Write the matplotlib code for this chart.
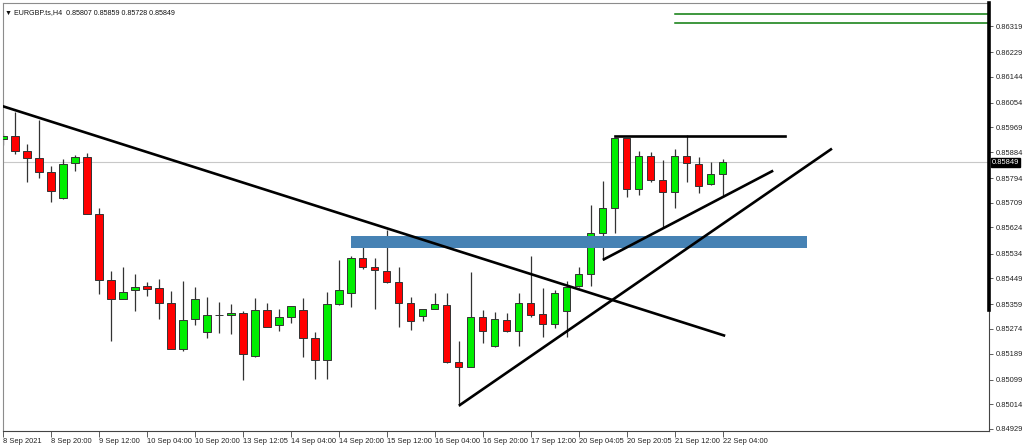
"""EURGBP H4 chart with trendlines"""
import matplotlib
matplotlib.use("Agg")
import matplotlib.pyplot as plt
import matplotlib.transforms as mtransforms

FONT = ["Liberation Sans", "DejaVu Sans"]

# OHLC, one H4 bar each, 8 Sep 04:00 .. 22 Sep 04:00
opens = [0.85930, 0.85941, 0.85889, 0.85863, 0.85816, 0.85725, 0.85845, 0.85866, 0.85670, 0.85442,
         0.85378, 0.85408, 0.85421, 0.85414, 0.85362, 0.85204, 0.85307, 0.85263, 0.85321, 0.85322,
         0.85328, 0.85182, 0.85339, 0.85286, 0.85315, 0.85339, 0.85242, 0.85167, 0.85359, 0.85399,
         0.85520, 0.85487, 0.85475, 0.85437, 0.85362, 0.85317, 0.85342, 0.85355, 0.85159, 0.85142,
         0.85314, 0.85214, 0.85304, 0.85266, 0.85362, 0.85325, 0.85292, 0.85335, 0.85422, 0.85462,
         0.85606, 0.85690, 0.85932, 0.85757, 0.85871, 0.85788, 0.85745, 0.85871, 0.85843, 0.85774,
         0.85807]
highs = [0.85951, 0.86023, 0.85911, 0.85995, 0.85836, 0.85860, 0.85874, 0.85880, 0.85690, 0.85474,
         0.85488, 0.85462, 0.85437, 0.85446, 0.85406, 0.85440, 0.85418, 0.85383, 0.85368, 0.85360,
         0.85337, 0.85380, 0.85362, 0.85343, 0.85354, 0.85380, 0.85263, 0.85401, 0.85513, 0.85526,
         0.85593, 0.85520, 0.85615, 0.85487, 0.85383, 0.85342, 0.85397, 0.85397, 0.85232, 0.85469,
         0.85339, 0.85333, 0.85328, 0.85399, 0.85527, 0.85414, 0.85408, 0.85440, 0.85487, 0.85701,
         0.85785, 0.85932, 0.85932, 0.85889, 0.85883, 0.85857, 0.85894, 0.85943, 0.85868, 0.85849,
         0.85859]
lows = [0.85908, 0.85876, 0.85782, 0.85794, 0.85713, 0.85722, 0.85820, 0.85669, 0.85395, 0.85232,
        0.85376, 0.85337, 0.85389, 0.85308, 0.85204, 0.85198, 0.85287, 0.85242, 0.85261, 0.85256,
        0.85096, 0.85177, 0.85280, 0.85268, 0.85295, 0.85178, 0.85102, 0.85102, 0.85357, 0.85351,
        0.85481, 0.85342, 0.85431, 0.85280, 0.85270, 0.85301, 0.85341, 0.85158, 0.85009, 0.85141,
        0.85224, 0.85213, 0.85262, 0.85216, 0.85316, 0.85247, 0.85276, 0.85245, 0.85420, 0.85423,
        0.85512, 0.85606, 0.85730, 0.85736, 0.85780, 0.85625, 0.85690, 0.85782, 0.85742, 0.85770,
        0.85728]
closes = [0.85941, 0.85888, 0.85863, 0.85816, 0.85749, 0.85843, 0.85866, 0.85670, 0.85442, 0.85376,
          0.85400, 0.85419, 0.85411, 0.85362, 0.85204, 0.85305, 0.85377, 0.85321, 0.85321, 0.85328,
          0.85186, 0.85339, 0.85280, 0.85314, 0.85352, 0.85244, 0.85167, 0.85359, 0.85408, 0.85520,
          0.85487, 0.85477, 0.85437, 0.85362, 0.85302, 0.85342, 0.85359, 0.85159, 0.85142, 0.85314,
          0.85266, 0.85307, 0.85266, 0.85364, 0.85323, 0.85290, 0.85397, 0.85420, 0.85462, 0.85606,
          0.85690, 0.85932, 0.85757, 0.85871, 0.85788, 0.85745, 0.85871, 0.85845, 0.85767, 0.85807,
          0.85849]

time_labels = ["8 Sep 2021", "8 Sep 20:00", "9 Sep 12:00", "10 Sep 04:00", "10 Sep 20:00",
               "13 Sep 12:05", "14 Sep 04:00", "14 Sep 20:00", "15 Sep 12:00", "16 Sep 04:00",
               "16 Sep 20:00", "17 Sep 12:00", "20 Sep 04:05", "20 Sep 20:05", "21 Sep 12:00",
               "22 Sep 04:00"]
price_ticks = [0.86319, 0.86229, 0.86144, 0.86054, 0.85969, 0.85884, 0.85794, 0.85709, 0.85624,
               0.85534, 0.85449, 0.85359, 0.85274, 0.85189, 0.85099, 0.85014, 0.84929]
last_price = 0.85849

# drawn objects (bar index, price)
down_line_x = [-0.23, 60.2]
down_line_y = [0.86045, 0.85250]
up_line_x = [38, 69.1]
up_line_y = [0.85009, 0.85896]
flag_line_x = [50, 64.2]
flag_line_y = [0.85512, 0.85820]
top_line_x = [51, 65.2]
top_line_y = 0.85940
zone_x = [29, 67]
zone_lo, zone_hi = 0.85553, 0.85595
green_start = 56
green_levels = [0.86360, 0.86331]

fig = plt.figure(figsize=(10.24, 4.47), dpi=100)
ax = fig.add_axes([3 / 1024, 16 / 447, 986 / 1024, 428 / 447])
ax.set_xlim(0.025, 82.19)
ax.set_ylim(0.849217, 0.863984)

# current price line
ax.axhline(last_price, color="#c8c8c8", lw=0.8, zorder=1)

# candles
n = len(opens)
xs = list(range(n))
ax.vlines(xs, lows, highs, color="#333333", lw=0.9, zorder=2)
bottoms = [min(o, c) for o, c in zip(opens, closes)]
heights = [abs(c - o) for o, c in zip(opens, closes)]
colors = ["#00ee00" if c > o else "#ff0000" for o, c in zip(opens, closes)]
ax.bar(xs, heights, bottom=bottoms, width=0.6, color=colors,
       edgecolor="#333333", linewidth=0.7, zorder=3)

# objects
ax.fill_between(zone_x, zone_lo, zone_hi, color="#4682b4", lw=0, zorder=4)
for lx, ly in [(down_line_x, down_line_y), (up_line_x, up_line_y), (flag_line_x, flag_line_y)]:
    ax.plot(lx, ly, color="black", lw=1.9, zorder=5, solid_capstyle="butt")
ax.plot(top_line_x, [top_line_y, top_line_y], color="black", lw=1.9, zorder=5)
for lvl in green_levels:
    ax.plot([green_start, 90], [lvl, lvl], color="#0a7a0a", lw=1.1, zorder=5)

# axes look
for side in ["left", "top"]:
    ax.spines[side].set_color("#8c8c8c")
for side in ["right", "bottom"]:
    ax.spines[side].set_color("#444444")
ax.plot([1, 1], [(431 - 310) / 428, 1], transform=ax.transAxes, color="black",
        lw=2.6, clip_on=False, zorder=6)

ax.yaxis.tick_right()
ax.set_yticks(price_ticks)
ax.set_yticklabels([f"{p:.5f}" for p in price_ticks], fontsize=5.4, family=FONT, color="#222222")
ax.tick_params(axis="y", length=3, width=0.6, pad=2, color="#444444")

ax.set_xticks(list(range(0, n, 4)))
ax.set_xticklabels(time_labels, fontsize=5.4, family=FONT, color="#222222", ha="left")
ax.tick_params(axis="x", length=4, width=0.6, pad=1, color="#444444")

# last price tag
trans = mtransforms.blended_transform_factory(ax.transAxes, ax.transData)
ax.text(1.003, last_price, f"{last_price:.5f}", transform=trans, fontsize=5.4, family=FONT,
        color="white", va="center", ha="left",
        bbox=dict(boxstyle="square,pad=0.15", fc="black", ec="black"), zorder=7, clip_on=False)

# header
ax.text(0.002, 0.985, "\u25bc EURGBP.ts,H4  0.85807 0.85859 0.85728 0.85849", transform=ax.transAxes,
        fontsize=5.1, family=FONT, color="#111111", va="top", ha="left")

fig.savefig("out.png", dpi=100)
